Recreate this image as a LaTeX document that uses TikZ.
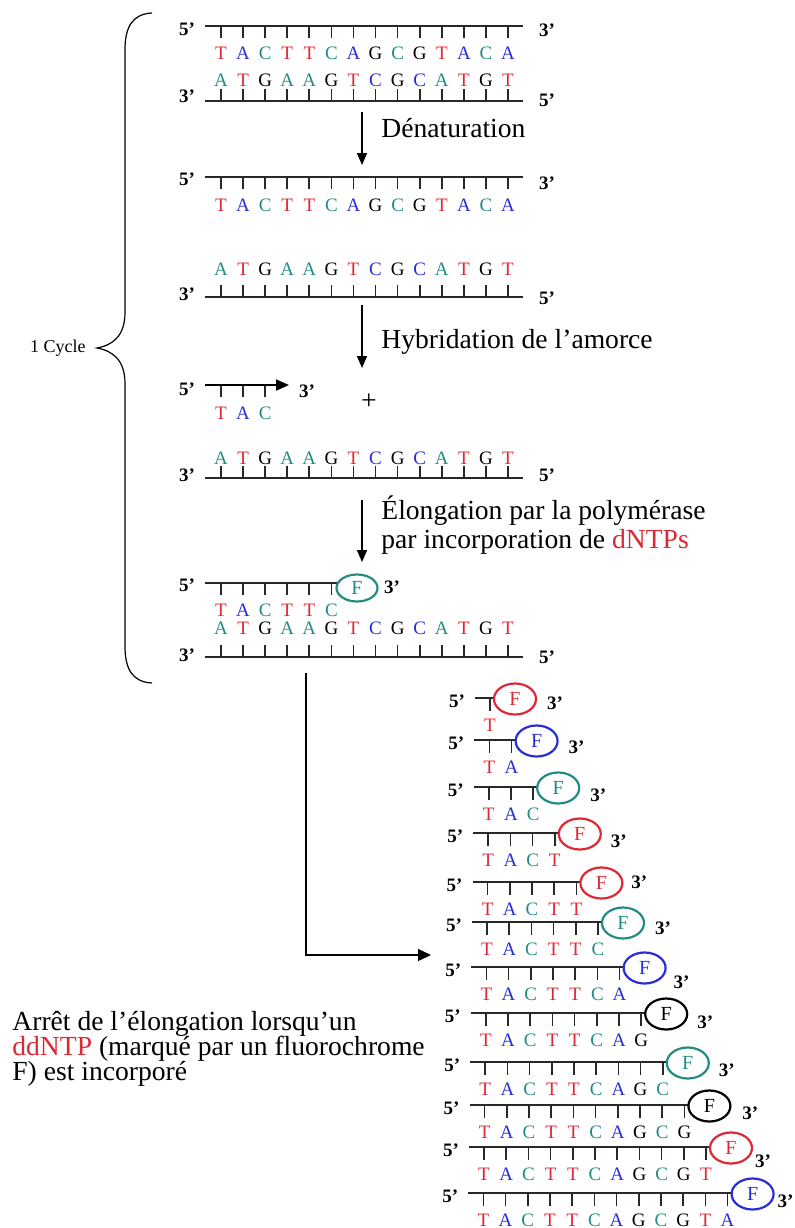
\documentclass[tikz,border=0pt]{standalone}
\usepackage{fontspec}
\setmainfont{Liberation Serif}
\usetikzlibrary{arrows.meta, positioning, shapes.geometric}
\definecolor{ntred}{RGB}{222,40,52}
\definecolor{ntblue}{RGB}{40,45,215}
\definecolor{ntteal}{RGB}{35,140,130}
\definecolor{strandgray}{RGB}{40,40,40}
\newcommand{\topseq}{T/ntred,A/ntblue,C/ntteal,T/ntred,T/ntred,C/ntteal,A/ntblue,G/black,C/ntteal,G/black,T/ntred,A/ntblue,C/ntteal,A/ntblue}
\newcommand{\botseq}{A/ntteal,T/ntred,G/black,A/ntteal,A/ntteal,G/black,T/ntred,C/ntblue,G/black,C/ntblue,A/ntteal,T/ntred,G/black,T/ntred}
\tikzset{
  base/.style={inner sep=0pt, font=\fontsize{9.5}{11}\selectfont},
  endlab/.style={inner sep=0pt, font=\fontsize{9.5}{11}\selectfont\bfseries},
  steplab/.style={inner sep=0pt, anchor=base west, font=\fontsize{13.8}{16}\selectfont},
  backbone/.style={draw=strandgray, line width=0.9pt},
  tick/.style={draw=strandgray, line width=0.85pt},
  flow/.style={-{Triangle[length=6pt, width=5pt]}, line width=0.7pt},
  primer/.style={-{Triangle[length=6.5pt, width=5.5pt]}, line width=0.9pt},
  fluo/.style={ellipse, draw=#1, text=#1, line width=1.1pt, minimum width=21pt,
    minimum height=15.5pt, inner sep=0pt, font=\fontsize{10}{11}\selectfont}
}

\begin{document}
\begin{tikzpicture}[x=0.5pt, y=-0.5pt]
  \useasboundingbox (0,0) rectangle (795,1228);

  % brace of the cycle
  \draw[line width=0.6pt] (152,13) .. controls (133,14) and (125,26) .. (125,50)
    -- (125,312) .. controls (125,336) and (113,345) .. (97,348)
    .. controls (113,351) and (125,360) .. (125,384)
    -- (125,646) .. controls (125,670) and (133,682) .. (152,683);
  \node[font=\fontsize{9}{11}\selectfont, inner sep=0pt, anchor=east] (cycle) at (86,348) {1 Cycle};

  % top strands
  \draw[backbone] (205,26) -- (523,26);
  \draw[backbone] (205,177) -- (523,177);
  \draw[backbone] (205,583) -- (337,583);
  \foreach \bb/\ly/\cnt in {26/53/14, 177/205/14, 583/610/6, 385/413/3} {
    \foreach \nt/\col [count=\k] in \topseq {
      \ifnum\k>\cnt\relax\else
        \pgfmathsetmacro\xx{221+22.08*(\k-1)}
        \draw[tick] (\xx,\bb) -- (\xx,\bb+12);
        \node[base, text=\col] (up\bb-\k) at (\xx,\ly) {\nt};
      \fi
    }
  }

  % bottom strands
  \foreach \ly/\ta/\tb in {80/89/101, 269/285/297, 458/466/478, 628/645/657} {
    \draw[backbone] (205,\tb) -- (523,\tb);
    \foreach \nt/\col [count=\k] in \botseq {
      \pgfmathsetmacro\xx{221+22.08*(\k-1)}
      \draw[tick] (\xx,\ta) -- (\xx,\tb);
      \node[base, text=\col] (lo\tb-\k) at (\xx,\ly) {\nt};
    }
  }

  % strand ends
  \foreach \ya/\yb/\yc/\yd/\xr in {29/30/96/100/547, 179/183/294/298/547,
      389/391/475/475/307, 585/587/655/657/392} {
    \node[endlab] at (187,\ya) {5’};
    \node[endlab] at (\xr,\yb) {3’};
    \node[endlab] at (187,\yc) {3’};
    \node[endlab] at (547,\yd) {5’};
  }

  % primer and first label
  \coordinate (pstart) at (205,385);
  \coordinate (pend) at (289,385);
  \draw[primer] (pstart) -- (pend);
  \node[font=\fontsize{13.8}{16}\selectfont, inner sep=0pt] (plus) at (369,402) {+};
  \node[fluo=ntteal, minimum width=20.5pt, minimum height=13.5pt] (f0) at (357,588) {F};

  % steps
  \coordinate (s1a) at (362,112);
  \coordinate (s1b) at (362,165);
  \coordinate (s2a) at (362,305);
  \coordinate (s2b) at (362,368);
  \coordinate (s3a) at (362,500);
  \coordinate (s3b) at (362,562);
  \draw[flow] (s1a) -- (s1b);
  \draw[flow] (s2a) -- (s2b);
  \draw[flow] (s3a) -- (s3b);
  \node[steplab] (denat) at (381,137) {Dénaturation};
  \node[steplab] (hybr) at (381,348) {Hybridation de l’amorce};
  \node[steplab] (elong) at (381,519) {Élongation par la polymérase};
  \node[steplab] (incorp) at (381,548) {par incorporation de \textcolor{ntred}{dNTPs}};

  % to the fragments
  \coordinate (cstart) at (306,673);
  \coordinate (cend) at (431,955);
  \draw[flow, -{Triangle[length=6.5pt, width=6pt]}] (cstart) |- (cend);

  % fragments stopped by a ddNTP
  \foreach \n/\yb/\dy/\dx/\col in {1/698/5/65/ntred, 2/740/7/65/ntblue, 3/787/8/65/ntteal,
      4/833/8/64/ntred, 5/882/0/63/ntred, 6/922/6/65/ntteal, 7/967/15/62/ntblue,
      8/1013/9/64/black, 9/1062/8/64/ntteal, 10/1105/8/66/black, 11/1147/14/57/ntred,
      12/1193/8/58/ntblue} {
    \pgfmathsetmacro\xo{490-0.6*(\n-1)}
    \pgfmathsetmacro\xl{\xo+22.2*(\n-1)}
    \draw[backbone] (\xo-15,\yb) -- (\xl+4,\yb);
    \foreach \nt/\tc [count=\k] in \topseq {
      \ifnum\k>\n\relax\else
        \pgfmathsetmacro\xx{\xo+22.2*(\k-1)}
        \draw[tick] (\xx,\yb) -- (\xx,\yb+13);
        \node[base, text=\tc] (r\n-\k) at (\xx,\yb+27) {\nt};
      \fi
    }
    \node[fluo=\col] (f\n) at (\xl+25,\yb+1) {F};
    \node[endlab] (five\n) at (\xo-33,\yb+3) {5’};
    \node[endlab] (three\n) at (\xl+\dx,\yb+\dy) {3’};
  }

  % legend of the stop
  \node[steplab] (stop1) at (12,1030) {Arrêt de l’élongation lorsqu’un};
  \node[steplab] (stop2) at (12,1055) {\textcolor{ntred}{ddNTP} (marqué par un fluorochrome};
  \node[steplab] (stop3) at (12,1080) {F) est incorporé};
\end{tikzpicture}
\end{document}
